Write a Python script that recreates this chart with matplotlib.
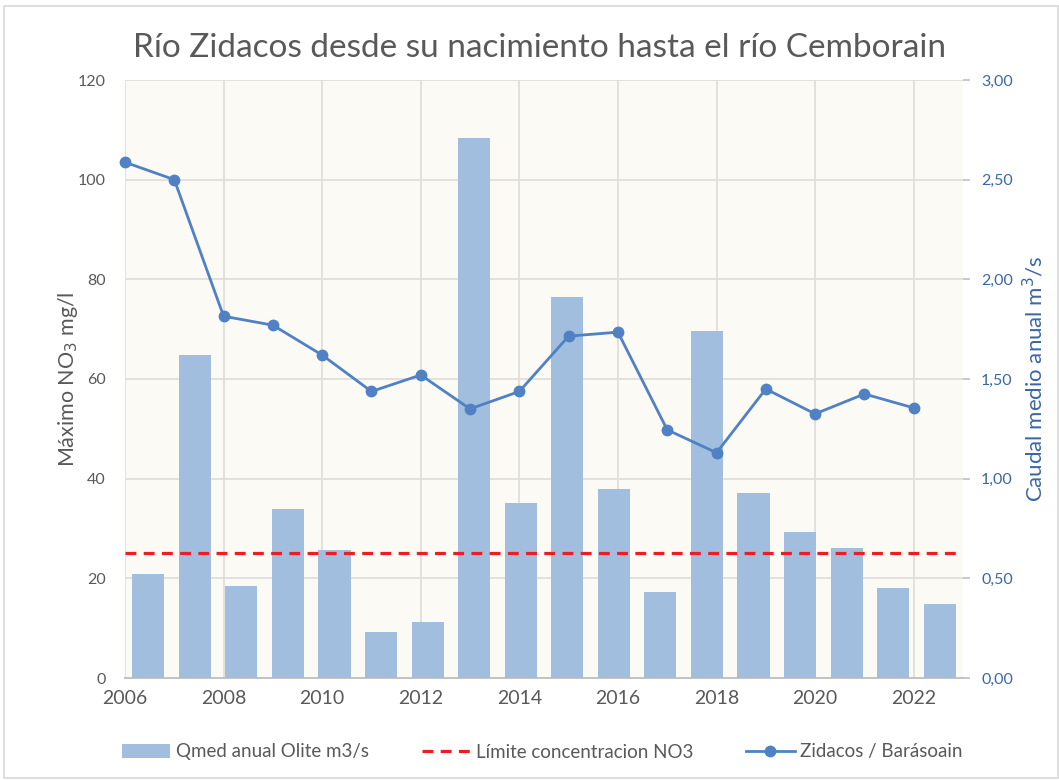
import matplotlib
matplotlib.use("Agg")
import matplotlib.pyplot as plt
import numpy as np
from matplotlib.patches import Rectangle

plt.rcParams['font.family'] = ['Lato', 'DejaVu Sans']

# ---- data ----
title = "Río Zidacos desde su nacimiento hasta el río Cemborain"
bar_years = list(range(2006, 2024))
qmed_olite = [0.52, 1.62, 0.46, 0.85, 0.64, 0.23, 0.28, 2.71, 0.88, 1.91,
              0.95, 0.43, 1.74, 0.93, 0.73, 0.65, 0.45, 0.37]
line_years = list(range(2006, 2023))
no3_max = [103.5, 100.0, 72.6, 70.8, 64.8, 57.5, 60.8, 54.0, 57.5, 68.6,
           69.4, 49.8, 45.2, 58.0, 53.0, 57.0, 54.2]
limit_no3 = 25
xtick_years = list(range(2006, 2023, 2))
left_ticks = [0, 20, 40, 60, 80, 100, 120]
right_ticks = [0.0, 0.5, 1.0, 1.5, 2.0, 2.5, 3.0]
right_ticklabels = ["0,00", "0,50", "1,00", "1,50", "2,00", "2,50", "3,00"]

# ---- style ----
W, H = 1059, 780
fig = plt.figure(figsize=(W / 100, H / 100), dpi=100)
fig.patch.set_facecolor("white")

L, R, T, B = 125, 963, 80, 678
rect = [L / W, 1 - B / H, (R - L) / W, (B - T) / H]

bg = "#FBFAF5"
grid_c = "#DEDDD9"
bar_c = "#A2BEDF"
line_c = "#4F81C4"
gray_txt = "#595959"
blue_txt = "#3B67A6"

# base axes: background, grid, left y-axis, x-axis (years)
axL = fig.add_axes(rect)
axL.set_facecolor(bg)
axL.set_xlim(2006, 2023)
axL.set_ylim(0, 120)
axL.set_xticks(xtick_years)
axL.set_xticklabels([str(y) for y in xtick_years], fontsize=14, color=gray_txt)
axL.set_yticks(left_ticks)
axL.set_yticklabels([str(v) for v in left_ticks], fontsize=11.5, color=gray_txt)
axL.grid(True, color=grid_c, linewidth=1.2)
axL.set_axisbelow(True)
axL.tick_params(axis='x', length=0, pad=9)
axL.tick_params(axis='y', length=0, pad=14)
for s in ["top", "left", "right"]:
    axL.spines[s].set_visible(False)
axL.spines["bottom"].set_color("#BFBFBF")
axL.spines["bottom"].set_linewidth(1.3)
axL.set_ylabel("Máximo NO$_3$ mg/l", fontsize=15.5, color=gray_txt, labelpad=-2)

# bar axes: categorical, right y-axis
axB = fig.add_axes(rect, frameon=False)
axB.patch.set_visible(False)
x_idx = np.arange(len(bar_years))
axB.bar(x_idx, qmed_olite, width=0.69, color=bar_c, zorder=2,
        label="Qmed anual Olite m3/s")
axB.set_xlim(-0.5, len(bar_years) - 0.5)
axB.set_ylim(0, 3)
axB.set_xticks([])
axB.yaxis.tick_right()
axB.yaxis.set_label_position("right")
axB.set_yticks(right_ticks)
axB.set_yticklabels(right_ticklabels, fontsize=11.5, color=blue_txt)
axB.tick_params(axis='y', length=5, color="#BFBFBF", width=1.2, pad=8)
axB.spines["right"].set_visible(True)
axB.spines["right"].set_color("#BFBFBF")
axB.spines["right"].set_linewidth(1.3)
axB.set_ylabel("Caudal medio anual m$^3$/s", fontsize=16, color=blue_txt,
               labelpad=6)

# top axes: line and limit, sharing left scale
axT = fig.add_axes(rect, sharex=axL, sharey=axL, frameon=False)
axT.patch.set_visible(False)
axT.axis("off")
hl = axT.axhline(limit_no3, color="#EE1C25", linewidth=2.3, dashes=(3.4, 2.3),
                 label="Límite concentracion NO3")
ln, = axT.plot(line_years, no3_max, color=line_c, linewidth=2.0, marker="o",
               markersize=7.5, label="Zidacos / Barásoain", clip_on=False)

fig.text(0.509, 1 - 57 / H, title, ha="center", va="baseline", fontsize=24,
         color=gray_txt)

bars_handle = axB.patches[0]
fig.legend([bars_handle, hl, ln],
           ["Qmed anual Olite m3/s", "Límite concentracion NO3", "Zidacos / Barásoain"],
           loc="center", bbox_to_anchor=(0.512, 1 - 752 / H), ncol=3, frameon=False,
           fontsize=13.5, labelcolor=gray_txt, handlelength=2.6, columnspacing=2.8,
           handletextpad=0.3)

fig.patches.append(Rectangle((4 / W, 2 / H), 1 - 5 / W, 1 - 8 / H,
                             transform=fig.transFigure, fill=False,
                             edgecolor="#D9D9D9", linewidth=1.2))

fig.savefig("out.png", dpi=100)
